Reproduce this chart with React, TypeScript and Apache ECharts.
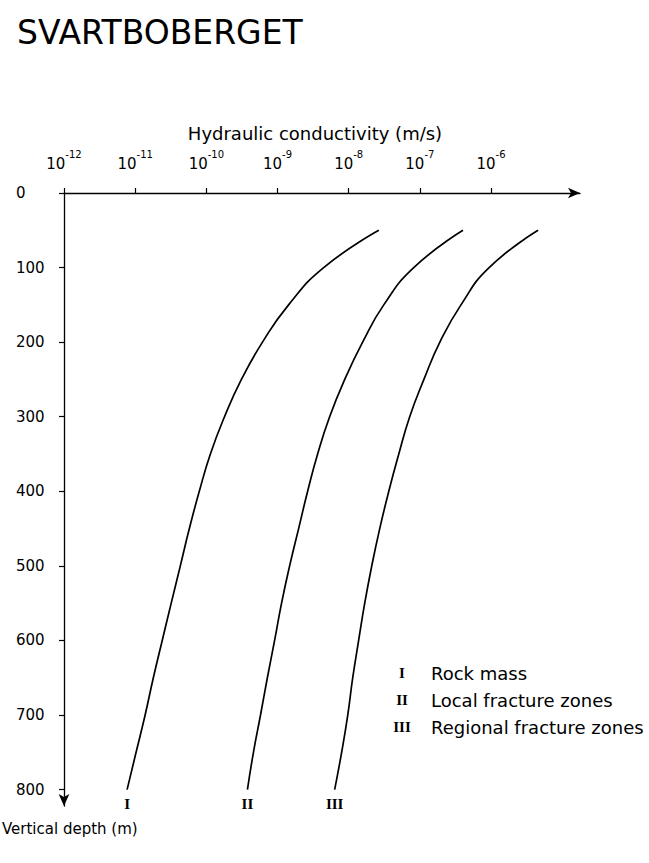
import React, { useEffect, useRef } from "react";
import * as echarts from "echarts";

// Depths (m) at which the curves were read
const depths = [50, 100, 150, 200, 250, 300, 350, 400, 450, 500, 550, 600, 650, 700, 750, 800];
// Hydraulic conductivity (m/s)
const rockMassK = [2.65e-8, 4.45e-9, 1.43e-9, 6.15e-10, 3.11e-10, 1.8e-10, 1.14e-10, 7.96e-11, 5.77e-11, 4.31e-11, 3.21e-11, 2.4e-11, 1.8e-11, 1.38e-11, 1.03e-11, 7.7e-12];
const localK = [4.04e-7, 8.2e-8, 3.11e-8, 1.57e-8, 8.8e-9, 5.4e-9, 3.66e-9, 2.65e-9, 1.98e-9, 1.48e-9, 1.14e-9, 9.1e-10, 7.2e-10, 5.77e-10, 4.59e-10, 3.78e-10];
const regionalK = [4.59e-6, 9.4e-7, 3.78e-7, 1.91e-7, 1.14e-7, 7.2e-8, 5.06e-8, 3.66e-8, 2.73e-8, 2.11e-8, 1.68e-8, 1.38e-8, 1.14e-8, 9.7e-9, 7.96e-9, 6.35e-9];

const seriesNames = ["Rock mass", "Local fracture zones", "Regional fracture zones"];
const numerals = ["I", "II", "III"];
const xTickExponents = [-12, -11, -10, -9, -8, -7, -6];
const yTicks = [0, 100, 200, 300, 400, 500, 600, 700, 800];

const SANS = "'DejaVu Sans', 'Noto Sans', sans-serif";
const SERIF = "'Liberation Serif', 'DejaVu Serif', serif";

export default function App() {
  const ref = useRef<HTMLDivElement>(null);
  useEffect(() => {
    if (!ref.current) return;
    const chart = echarts.init(ref.current, null, { renderer: "svg" });
    const curves = [rockMassK, localK, regionalK];
    const lineSeries = curves.map((k, si) => ({
      type: "line",
      name: seriesNames[si],
      data: depths.map((d, i) => [Math.log10(k[i]), d]),
      smooth: 0.5,
      showSymbol: false,
      lineStyle: { color: "#000", width: 1.7 },
      z: 3,
    }));
    const endSeries = curves.map((k, si) => ({
      type: "scatter",
      name: numerals[si],
      data: [[Math.log10(k[k.length - 1]), depths[depths.length - 1]]],
      symbolSize: 1,
      itemStyle: { color: "rgba(0,0,0,0)" },
      label: {
        show: true,
        position: "bottom",
        distance: 6,
        formatter: numerals[si],
        fontFamily: SERIF,
        fontWeight: "bold",
        fontSize: 15,
        color: "#000",
        opacity: 1,
      },
    }));
    const option: any = {
      animation: false,
      backgroundColor: "#fff",
      grid: { left: 64, right: 69, top: 193, bottom: 57, containLabel: false, outerBoundsMode: "none" },
      xAxis: {
        type: "value",
        position: "top",
        min: -12,
        max: -4.75,
        interval: 1,
        splitLine: { show: false },
        axisLine: {
          show: true,
          lineStyle: { color: "#000", width: 1.3 },
          symbol: ["none", "arrow"],
          symbolSize: [8, 12],
        },
        axisTick: {
          show: true,
          inside: false,
          length: 5,
          customValues: xTickExponents,
          lineStyle: { color: "#000", width: 1.2, opacity: 1 },
        },
        axisLabel: {
          customValues: xTickExponents,
          margin: 22,
          formatter: (v: number) => `{b|10}{s|${Math.round(v)}}`,
          rich: {
            b: { fontSize: 15, fontFamily: SANS, color: "#000", verticalAlign: "bottom", lineHeight: 22 },
            s: { fontSize: 10, fontFamily: SANS, color: "#000", verticalAlign: "top", lineHeight: 22 },
          },
        },
      },
      yAxis: {
        type: "value",
        inverse: true,
        min: 0,
        max: 822,
        interval: 100,
        splitLine: { show: false },
        axisLine: {
          show: true,
          lineStyle: { color: "#000", width: 1.3 },
          symbol: ["arrow", "none"],
          symbolSize: [8, 12],
        },
        axisTick: {
          show: true,
          inside: false,
          length: 5,
          customValues: yTicks,
          lineStyle: { color: "#000", width: 1.2, opacity: 1 },
        },
        axisLabel: {
          customValues: yTicks,
          align: "left",
          margin: 48,
          fontSize: 15,
          fontFamily: SANS,
          color: "#000",
        },
      },
      series: [...lineSeries, ...endSeries],
      graphic: [
        {
          type: "text",
          left: 17,
          top: 16,
          style: { text: "SVARTBOBERGET", font: "33px 'DejaVu Sans', sans-serif", fill: "#000" },
        },
        {
          type: "text",
          x: 315,
          y: 133,
          style: { text: "Hydraulic conductivity (m/s)", font: `18px ${SANS}`, fill: "#000", align: "center", verticalAlign: "middle" },
        },
        {
          type: "text",
          x: 2,
          y: 829,
          style: { text: "Vertical depth (m)", font: `15px ${SANS}`, fill: "#000", verticalAlign: "middle" },
        },
        ...numerals.map((n, i) => ({
          type: "text",
          x: 402,
          y: 673 + i * 27,
          style: { text: n, font: `bold 15px ${SERIF}`, fill: "#000", align: "center", verticalAlign: "middle" },
        })),
        ...seriesNames.map((n, i) => ({
          type: "text",
          x: 431,
          y: 673 + i * 27,
          style: { text: n, font: `18px ${SANS}`, fill: "#000", verticalAlign: "middle" },
        })),
      ],
    };
    chart.setOption(option);
    return () => chart.dispose();
  }, []);
  return (
    <div
      ref={ref}
      style={{ position: "fixed", left: 0, top: 0, width: 649, height: 863, background: "#fff" }}
    />
  );
}
